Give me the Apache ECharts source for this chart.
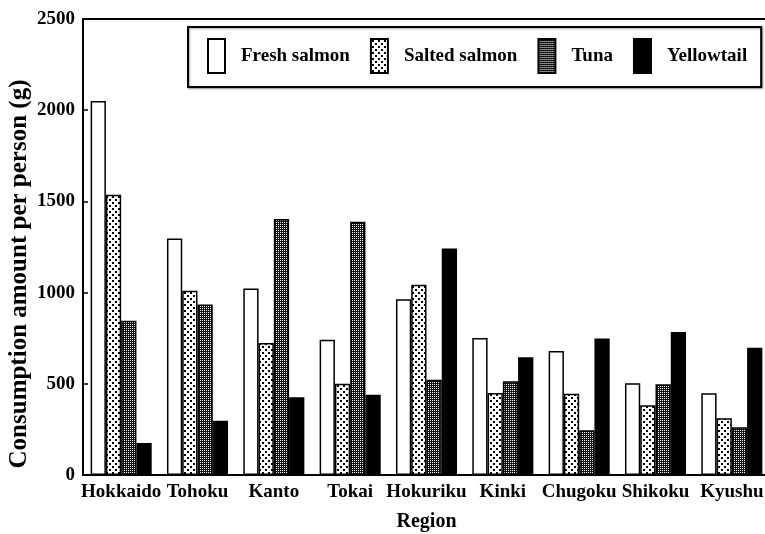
<!DOCTYPE html>
<html>
<head>
<meta charset="utf-8">
<script src="https://cdn.jsdelivr.net/npm/echarts@6/dist/echarts.min.js"></script>
<style>
  html, body { margin: 0; padding: 0; background: #fff; }
  #main { width: 765px; height: 534px; }
</style>
</head>
<body>
<div id="main"></div>
<script>
// data
var regions = ['Hokkaido', 'Tohoku', 'Kanto', 'Tokai', 'Hokuriku', 'Kinki', 'Chugoku', 'Shikoku', 'Kyushu'];
var freshSalmon  = [2050, 1297, 1023, 742, 963, 751, 680, 503, 448];
var saltedSalmon = [1536, 1010, 724, 500, 1043, 450, 445, 383, 311];
var tuna         = [846, 935, 1403, 1388, 522, 514, 246, 498, 262];
var yellowtail   = [175, 297, 426, 440, 1242, 645, 748, 784, 697];
var yTicks = [0, 500, 1000, 1500, 2000, 2500];

var serif = '"Liberation Serif", "Times New Roman", serif';

// fill patterns
function dots() {
	var c = document.createElement('canvas');
	c.width = 6; c.height = 6;
	var ctx = c.getContext('2d');
	ctx.fillStyle = '#fff';
	ctx.fillRect(0, 0, 6, 6);
	ctx.fillStyle = '#000';
	ctx.fillRect(1, 1, 2, 2);
	ctx.fillRect(4, 4, 2, 2);
	return c;
}
function checker() {
	var c = document.createElement('canvas');
	c.width = 2; c.height = 2;
	var ctx = c.getContext('2d');
	ctx.fillStyle = '#111';
	ctx.fillRect(0, 0, 2, 2);
	ctx.fillStyle = '#fff';
	ctx.fillRect(0, 0, 1, 1);
	return c;
}

var myChart = echarts.init(document.getElementById('main'));

var barBorder = { borderColor: '#000', borderWidth: 1.5 };

function mkSeries(name, data, color) {
	return {
		name: name,
		type: 'bar',
		data: data,
		barGap: '0%',
		barCategoryGap: '20%',
		itemStyle: Object.assign({ color: color }, barBorder),
		emphasis: { disabled: true }
	};
}

var option = {
	animation: false,
	backgroundColor: '#fff',
	textStyle: { fontFamily: serif },
	grid: {
		left: 83,
		right: -5,
		top: 19,
		bottom: 59,
		outerBoundsMode: 'none',
		containLabel: false,
		show: true,
		borderColor: '#000',
		borderWidth: 2
	},
	legend: {
		left: 188,
		top: 27,
		padding: [11, 14, 13, 19],
		borderColor: '#000',
		borderWidth: 2,
		backgroundColor: '#fff',
		shadowColor: 'rgba(0,0,0,0.35)',
		shadowBlur: 2,
		shadowOffsetX: 1,
		shadowOffsetY: 1,
		itemWidth: 17,
		itemHeight: 34,
		itemGap: 20,
		icon: 'rect',
		textStyle: {
			fontFamily: serif,
			fontWeight: 'bold',
			fontSize: 19,
			color: '#000',
			padding: [0, 0, 0, 11]
		},
		data: ['Fresh salmon', 'Salted salmon', 'Tuna', 'Yellowtail']
	},
	xAxis: {
		type: 'category',
		data: regions,
		name: 'Region',
		nameLocation: 'middle',
		nameGap: 37,
		nameMoveOverlap: false,
		nameTextStyle: { fontFamily: serif, fontWeight: 'bold', fontSize: 20, color: '#000' },
		axisLine: { lineStyle: { color: '#000', width: 2 } },
		axisTick: { inside: true, length: 4, lineStyle: { color: '#000', width: 1.5 } },
		axisLabel: {
			interval: 0,
			margin: 8,
			fontFamily: serif,
			fontWeight: 'bold',
			fontSize: 19,
			color: '#000'
		}
	},
	yAxis: {
		type: 'value',
		min: yTicks[0],
		max: yTicks[yTicks.length - 1],
		interval: 500,
		name: 'Consumption amount per person (g)',
		nameLocation: 'middle',
		nameGap: 51,
		nameMoveOverlap: false,
		nameTextStyle: {
			fontFamily: serif, fontWeight: 'bold', fontSize: 25, color: '#000',
			padding: [0, 54, 0, 0]
		},
		splitLine: { show: false },
		axisLine: { show: true, lineStyle: { color: '#000', width: 2 } },
		axisTick: { show: true, inside: true, length: 5, lineStyle: { color: '#000', width: 1.5 } },
		axisLabel: {
			margin: 8,
			fontFamily: serif,
			fontWeight: 'bold',
			fontSize: 19,
			color: '#000',
			formatter: function(v) { return String(v); }
		}
	},
	series: [
		mkSeries('Fresh salmon', freshSalmon, '#fff'),
		mkSeries('Salted salmon', saltedSalmon, { image: dots(), repeat: 'repeat' }),
		mkSeries('Tuna', tuna, { image: checker(), repeat: 'repeat' }),
		mkSeries('Yellowtail', yellowtail, '#000')
	]
};

myChart.setOption(option);
</script>
</body>
</html>
